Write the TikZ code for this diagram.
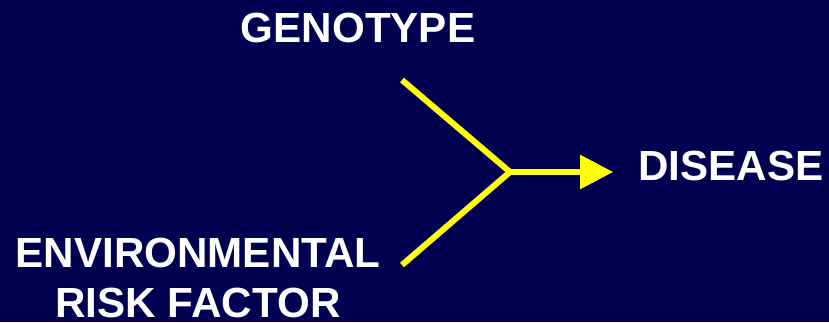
\documentclass[tikz,border=0pt]{standalone}
\usepackage{fontspec}
\setmainfont{Liberation Sans}
\usetikzlibrary{arrows.meta}

\definecolor{slidebg}{RGB}{0,0,80}
\definecolor{arrowyellow}{RGB}{255,255,0}

\begin{document}
\begin{tikzpicture}[
    x=0.02cm,
    y=-0.02cm,
    lbl/.style={text=white, inner sep=0, align=center,
        font=\fontsize{24}{28.45}\selectfont\bfseries},
    link/.style={draw=arrowyellow, line width=6*0.02cm},
]
    % slide background
    \fill[slidebg] (0, 0) rectangle (829, 322);
    \useasboundingbox (0, 0) rectangle (829, 322);

    \node[lbl] (geno) at (358, 28) {GENOTYPE};
    \node[lbl] (env) at (198, 277.5) {ENVIRONMENTAL\\RISK FACTOR};
    \node[lbl] (disease) at (731, 166) {DISEASE};

    \coordinate (genoend) at (402, 80);
    \coordinate (envend) at (402, 265);
    \coordinate (join) at (510, 172);

    \path[link] (genoend) -- (join);
    \path[link] (envend) -- (join);
    \path[link, -{Triangle[length=0.66cm, width=0.66cm]}, shorten >=25*0.02cm]
        (join) -- (join -| disease.west);
\end{tikzpicture}
\end{document}
